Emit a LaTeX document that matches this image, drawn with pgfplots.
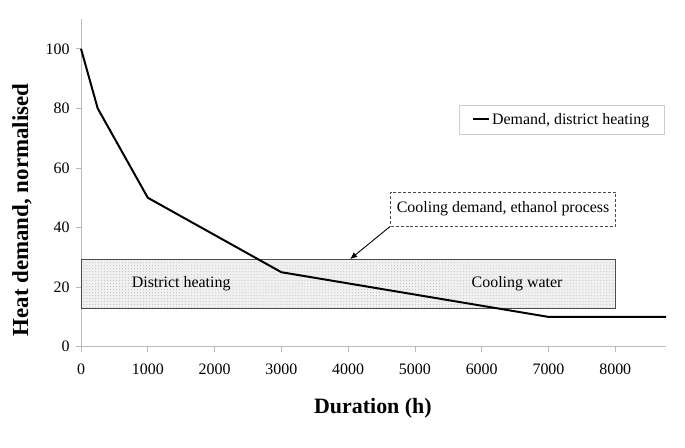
\documentclass[border=0pt]{standalone}
\usepackage{fontspec}
\setmainfont{Liberation Serif}
\usepackage{pgfplots}
\pgfplotsset{compat=1.18}
\usetikzlibrary{patterns,arrows.meta}
\begin{document}
\begin{tikzpicture}[x=1bp,y=1bp]
\useasboundingbox (0,0) rectangle (685,448);
\begin{axis}[
  at={(81bp,101.3bp)}, anchor=south west,
  scale only axis, width=585bp, height=327.7bp,
  xmin=0, xmax=8760, ymin=0, ymax=110,
  axis x line=bottom, axis y line=left,
  axis line style={-, draw=gray!55, line width=0.6pt},
  xtick={0,1000,...,8000}, ytick={0,20,...,100},
  tick align=outside, major tick length=5bp,
  tick style={draw=gray!55, line width=0.6pt},
  /pgf/number format/1000 sep={},
  /pgf/number format/assume math mode=true,
  tick label style={font=\fontsize{16}{19}\selectfont},
  xticklabel style={yshift=-9bp},
  yticklabel style={xshift=-3bp},
  clip=false,
  legend style={at={(rel axis cs:0.646,0.7376)}, anchor=north west,
    draw=gray!40, font=\fontsize{16}{19}\selectfont,
    inner xsep=13bp, inner ysep=6bp},
  legend cell align=left,
  legend image code/.code={\draw[black, line width=2pt] (0bp,0bp) -- (16bp,0bp);},
]
\addplot[draw=black!40, fill=black!6, line width=0.6pt, forget plot]
  coordinates {(0,13) (8000,13) (8000,29.4) (0,29.4)} -- cycle;
\addplot[pattern=dots, pattern color=black!25, draw=none, forget plot]
  coordinates {(0,13) (8000,13) (8000,29.4) (0,29.4)} -- cycle;
\addplot[draw=black!70, line width=0.6pt, forget plot]
  coordinates {(0,13) (8000,13) (8000,29.4) (0,29.4)} -- cycle;
\addplot[black, line width=2pt] coordinates {
  (0,100) (250,80) (1000,50) (3000,25) (7000,10) (8760,10)};
\addlegendentry{Demand, district heating}
\node[font=\fontsize{16}{19}\selectfont] at (axis cs:1500,21) {District heating};
\node[font=\fontsize{16}{19}\selectfont] at (axis cs:6530,21) {Cooling water};
\node[draw=black!70, densely dashed, line width=0.6pt, font=\fontsize{16}{19}\selectfont,
  minimum width=225bp, minimum height=34bp, inner sep=2bp]
  (cd) at (axis cs:6320,46.2) {Cooling demand, ethanol process};
\draw[-{Latex[length=7bp,width=6bp]}, line width=0.9pt] (cd.south west) -- (axis cs:4030,29.4);
\node[rotate=90, font=\fontsize{23}{27}\selectfont\bfseries] at (rel axis cs:-0.101,0.417) {Heat demand, normalised};
\node[font=\fontsize{22}{26}\selectfont\bfseries] at (rel axis cs:0.499,-0.187) {Duration (h)};
\end{axis}
\end{tikzpicture}
\end{document}
